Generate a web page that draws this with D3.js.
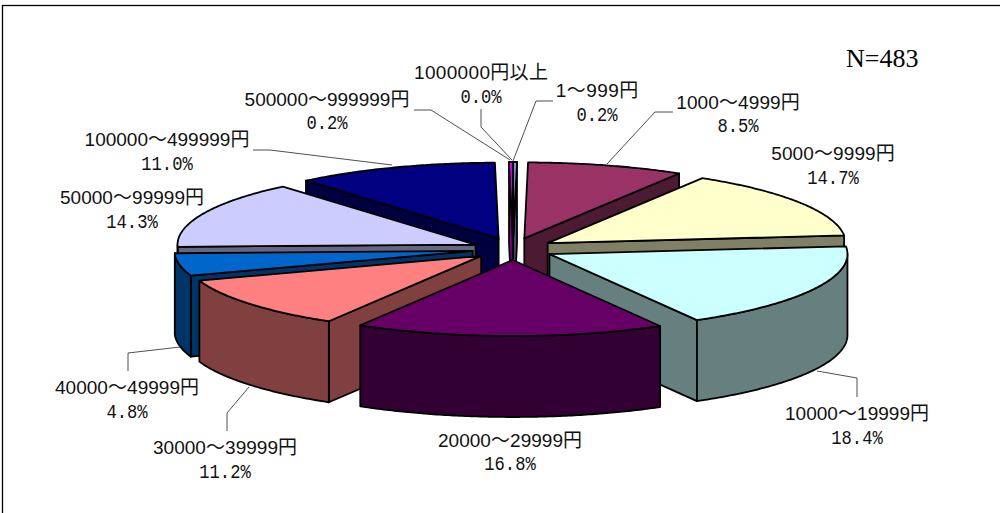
<!DOCTYPE html>
<html lang="ja">
<head>
<meta charset="utf-8">
<script src="https://cdn.jsdelivr.net/npm/d3@7"></script>
<style>
  html, body { margin: 0; padding: 0; background: #fff; overflow: hidden; }
  svg { display: block; }
  .label { fill: #111; text-anchor: middle; }
  .band { font-family: "Liberation Sans", "Noto Sans CJK JP", sans-serif; font-size: 19px; }
  .share { font-family: "Liberation Mono", monospace; font-size: 20.5px; }
</style>
</head>
<body>
<svg id="chart" width="1000" height="513"></svg>
<script>
// Income bands, clockwise from twelve o'clock, with their share in percent.
const categories = [
  "1～999円", "1000～4999円", "5000～9999円", "10000～19999円", "20000～29999円",
  "30000～39999円", "40000～49999円", "50000～99999円", "100000～499999円",
  "500000～999999円", "1000000円以上"
];
const shares = [0.2, 8.5, 14.7, 18.4, 16.8, 11.2, 4.8, 14.3, 11.0, 0.2, 0.0];
const topColors = [
  "#9999ff", "#993366", "#ffffcc", "#ccffff", "#660066",
  "#ff8080", "#0066cc", "#ccccff", "#000080", "#ff00ff", "#ffff00"
];

// Label placement: centre x, first baseline, second baseline, and leader polyline (outer to slice).
const labelLayout = [
  { x: 597, y1: 97,  y2: 121, leader: [[553, 101], [536, 101], [513, 161]] },
  { x: 738, y1: 109, y2: 132, leader: [[673, 112], [655, 112], [607, 164]] },
  { x: 833, y1: 160, y2: 184 },
  { x: 857, y1: 420, y2: 444, leader: [[857, 397], [857, 378], [817, 371]] },
  { x: 510, y1: 447, y2: 470 },
  { x: 225, y1: 454, y2: 478, leader: [[227, 431], [227, 413], [249, 387]] },
  { x: 127, y1: 394, y2: 418, leader: [[128, 371], [128, 353], [180, 347]] },
  { x: 132, y1: 204, y2: 228 },
  { x: 167, y1: 146, y2: 170, leader: [[253, 150], [270, 150], [392, 165]] },
  { x: 327, y1: 106, y2: 129, leader: [[414, 110], [431, 110], [510, 160]] },
  { x: 481, y1: 79,  y2: 103, leader: [[481, 109], [481, 127], [512, 160]] }
];

// Projection of the tilted disc.
const cx = 513, cy = 249, rx = 298, ry = 76, depth = 81;
const explodeX = 41, explodeY = 11;

const svg = d3.select("#chart");
const xScale = d3.scaleLinear().domain([-1, 1]).range([-rx, rx]);
const yScale = d3.scaleLinear().domain([-1, 1]).range([-ry, ry]);
const line = d3.line();
const closed = pts => line(pts) + "Z";

const slices = d3.pie().sort(null).value(d => d)(shares).map((s, i) => {
  const mid = (s.startAngle + s.endAngle) / 2;
  return {
    index: i, start: s.startAngle, end: s.endAngle, mid,
    ox: cx + explodeX * Math.sin(mid),
    oy: cy - explodeY * Math.cos(mid)
  };
});

const rim = (s, a, dz = 0) => [s.ox + xScale(Math.sin(a)), s.oy + yScale(-Math.cos(a)) + dz];
const arcPoints = (s, a0, a1, dz = 0) => {
  const n = Math.max(1, Math.ceil(Math.abs(a1 - a0) / 0.01));
  return d3.range(n + 1).map(k => rim(s, a0 + (a1 - a0) * k / n, dz));
};
const shade = c => {
  const { r, g, b } = d3.rgb(c);
  return d3.rgb(r / 2, g / 2, b / 2).formatHex();
};

svg.append("rect")
  .attr("x", 2.5).attr("y", 5.5).attr("width", 1100).attr("height", 600)
  .attr("fill", "#fff").attr("stroke", "#000").attr("stroke-width", 1.3);

// Far slices first, near slices last, so nearer walls cover what is behind them.
const ordered = [...slices].sort((a, b) => Math.cos(b.mid) - Math.cos(a.mid));
const pieGroup = svg.append("g").attr("stroke", "#000").attr("stroke-width", 1.8).attr("stroke-linejoin", "round");

ordered.forEach(s => {
  const g = pieGroup.append("g");
  const top = topColors[s.index], side = shade(top);
  const apex = [s.ox, s.oy], apexLow = [s.ox, s.oy + depth];

  const cutFace = a => {
    g.append("path").attr("fill", side)
      .attr("d", closed([apex, rim(s, a), rim(s, a, depth), apexLow]));
  };
  if (Math.sin(s.start) < 0) cutFace(s.start);
  if (Math.sin(s.end) > 0) cutFace(s.end);

  // Outer wall: only the front half of the rim faces the viewer.
  const a0 = Math.max(s.start, Math.PI / 2), a1 = Math.min(s.end, 3 * Math.PI / 2);
  if (a1 > a0) {
    g.append("path").attr("fill", side)
      .attr("d", closed([...arcPoints(s, a0, a1), ...arcPoints(s, a1, a0, depth)]));
  }

  g.append("path").attr("fill", top)
    .attr("d", closed([apex, ...arcPoints(s, s.start, s.end)]));
});

// Leader lines.
svg.append("g").attr("fill", "none").attr("stroke", "#222").attr("stroke-width", 0.8)
  .selectAll("path").data(labelLayout.filter(d => d.leader)).join("path")
  .attr("d", d => line(d.leader));

// Half-width cell layout: digits and signs one cell, CJK two cells.
const cell = 10.3;
const cellWidth = t => Array.from(t).reduce((w, c) => w + (c.charCodeAt(0) < 128 ? cell : 2 * cell), 0);

const labels = svg.append("g").selectAll("g").data(categories).join("g");
labels.append("text").attr("class", "label band")
  .attr("x", (d, i) => labelLayout[i].x)
  .attr("y", (d, i) => labelLayout[i].y1)
  .attr("textLength", d => cellWidth(d))
  .attr("lengthAdjust", "spacing")
  .text(d => d);
labels.append("text").attr("class", "label share")
  .attr("x", (d, i) => labelLayout[i].x)
  .attr("y", (d, i) => labelLayout[i].y2)
  .attr("textLength", (d, i) => cellWidth(shares[i].toFixed(1) + "%"))
  .attr("lengthAdjust", "spacingAndGlyphs")
  .text((d, i) => shares[i].toFixed(1) + "%");

svg.append("text").attr("x", 846).attr("y", 67)
  .attr("font-family", "'Liberation Serif', serif").attr("font-size", 26).attr("fill", "#000")
  .text("N=483");
</script>
</body>
</html>
